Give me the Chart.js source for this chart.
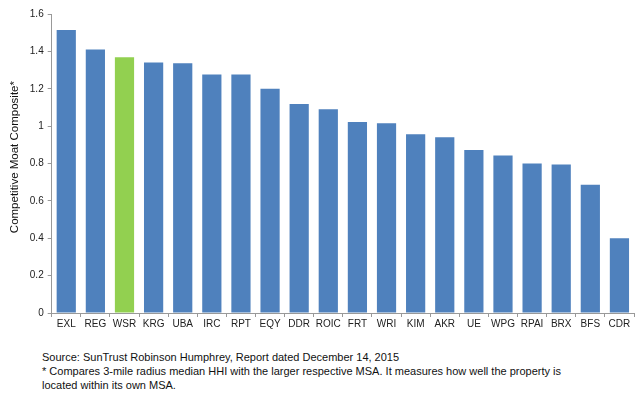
<!DOCTYPE html>
<html>
<head>
<meta charset="utf-8">
<script src="https://cdn.jsdelivr.net/npm/chart.js@4"></script>
<style>
  html, body { margin: 0; padding: 0; background: #fff; }
  body { width: 640px; height: 394px; overflow: hidden; font-family: "Liberation Sans", Arial, sans-serif; }
  #wrap { position: relative; width: 640px; height: 331px; }
  .note { position: absolute; left: 42px; font-size: 11px; color: #111; line-height: 14px; }
</style>
</head>
<body>
<div id="wrap"><canvas id="moatChart"></canvas></div>
<div class="note" style="top:350px;">
  Source: SunTrust Robinson Humphrey, Report dated December 14, 2015<br>
  * Compares 3-mile radius median HHI with the larger respective MSA. It measures how well the property is<br>
  located within its own MSA.
</div>
<script>
// tickers and composite scores
const tickers = ['EXL', 'REG', 'WSR', 'KRG', 'UBA', 'IRC', 'RPT', 'EQY', 'DDR', 'ROIC',
                 'FRT', 'WRI', 'KIM', 'AKR', 'UE', 'WPG', 'RPAI', 'BRX', 'BFS', 'CDR'];
const moatScores = [1.515, 1.41, 1.368, 1.34, 1.337, 1.276, 1.276, 1.2, 1.119, 1.09,
                    1.022, 1.016, 0.957, 0.94, 0.872, 0.843, 0.8, 0.795, 0.686, 0.4];
const highlighted = 'WSR';

window.onload = () => {
    const ctx = document.getElementById('moatChart').getContext('2d');
    const barColors = tickers.map(t => t === highlighted ? '#92D050' : '#4F81BD');
    const tickFont = { family: 'Liberation Sans', size: 10 };

    new Chart(ctx, {
        type: 'bar',
        data: {
            labels: tickers,
            datasets: [{
                data: moatScores,
                backgroundColor: barColors,
                borderWidth: 0,
                barPercentage: 0.66,
                categoryPercentage: 1.0
            }]
        },
        options: {
            responsive: true,
            maintainAspectRatio: false,
            animation: false,
            layout: { padding: { top: 14, right: 6, left: 6, bottom: 0 } },
            plugins: { legend: { display: false }, tooltip: { enabled: false } },
            scales: {
                x: {
                    grid: { drawOnChartArea: false, drawTicks: true, tickLength: 4, color: '#999' },
                    border: { display: true, color: '#999' },
                    ticks: { color: '#222', font: tickFont, maxRotation: 0, autoSkip: false, padding: 1 }
                },
                y: {
                    min: 0,
                    max: 1.6,
                    ticks: {
                        stepSize: 0.2,
                        color: '#222',
                        font: tickFont,
                        padding: 4,
                        // Excel-style labels: "1" not "1.0"
                        callback: v => String(Math.round(v * 10) / 10)
                    },
                    grid: { drawOnChartArea: false, drawTicks: true, tickLength: 4, color: '#999' },
                    border: { display: true, color: '#999' },
                    title: {
                        display: true,
                        // leading spaces nudge the rotated title a bit above centre, as in the original
                        text: '    Competitive Moat Composite*',
                        color: '#111',
                        font: { family: 'Liberation Sans', size: 11.5 },
                        padding: { top: 2, bottom: 4 }
                    }
                }
            }
        }
    });
};
</script>
</body>
</html>
